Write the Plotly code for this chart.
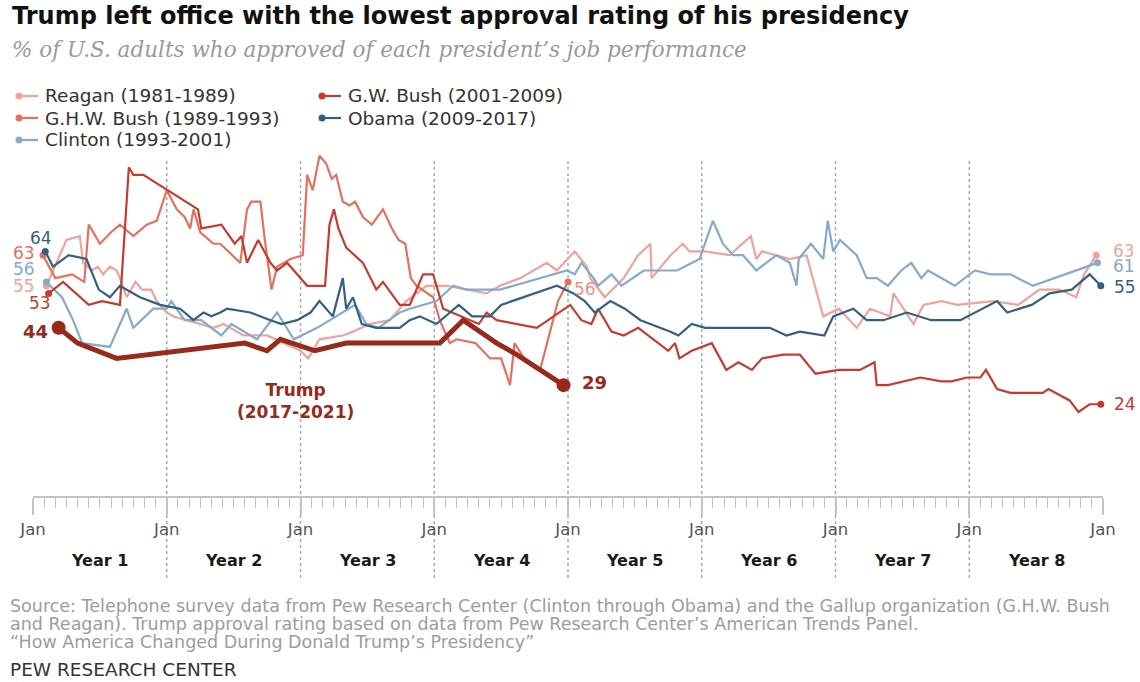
import plotly.graph_objects as go

# ---- Data: months since inauguration and % approving -------------------
reagan_m = [1.2, 3.0, 4.2, 4.5, 5.3, 5.8, 6.3, 6.9, 7.5, 7.8, 8.4, 9.2, 9.8, 10.6, 11.1,
            12.0, 12.6, 13.8, 15.0, 16.2, 17.1, 18.9, 21.0, 24.0, 24.7, 25.7, 27.8, 28.7,
            30.2, 32.0, 33.5, 35.3, 37.1, 40.7, 41.9, 43.7, 46.1, 47.0, 48.6, 49.7, 50.0,
            51.3, 53.0, 54.3, 55.4, 55.5, 57.2, 58.3, 58.9, 60.3, 62.5, 64.4, 64.9, 65.4,
            67.9, 69.4, 70.9, 72.3, 73.9, 75.1, 76.9, 77.2, 79.0, 79.9, 81.5, 82.9, 86.2,
            88.4, 90.3, 92.1, 93.6, 94.3, 95.4]
reagan_v = [55, 67, 68, 61, 59, 60, 58, 60, 59, 57, 52, 56, 54, 54, 51,
            48, 47, 46, 45, 44, 45, 42, 42, 38, 36, 41, 42, 43,
            45, 46, 51, 55, 55, 53, 55, 57, 61, 59, 64, 60, 57,
            52, 57, 63, 66, 57, 63, 66, 64, 64, 63, 68, 62, 64,
            62, 63, 47, 49, 44, 49, 47, 53, 45, 50, 51, 50, 51,
            50, 54, 54, 52, 58, 63]

ghw_bush_m = [0.9, 2.0, 3.5, 4.6, 5.0, 6.0, 7.0, 7.8, 9.0, 10.2, 11.1, 12.0, 12.9, 13.6,
              14.1, 14.4, 15.0, 16.2, 16.8, 18.6, 19.2, 19.6, 20.4, 20.8, 21.4, 21.9,
              23.1, 24.2, 24.6, 25.1, 25.7, 26.3, 26.8, 27.2, 27.8, 28.4, 28.9, 29.6,
              30.4, 31.4, 32.2, 32.8, 33.4, 33.9, 34.4, 35.9, 36.5, 37.4, 38.0, 39.7,
              41.0, 42.0, 42.8, 43.2, 44.3, 45.5, 47.1, 48.0]
ghw_bush_v = [63, 57, 58, 56, 71, 66, 69, 71, 68, 71, 72, 80, 75, 73,
              70, 75, 69, 66, 66, 61, 75, 77, 77, 67, 54, 60,
              62, 63, 84, 80, 89, 87, 83, 84, 77, 76, 77, 73,
              71, 75, 70, 67, 66, 57, 55, 52, 46, 40, 41, 40,
              36, 36, 29, 40, 35, 33, 51, 56]

clinton_m = [1.2, 2.6, 3.6, 4.4, 6.9, 8.4, 9.0, 10.8, 12.0, 12.4, 13.6, 15.1, 16.9, 17.8,
             20.1, 21.9, 23.4, 25.5, 28.9, 29.9, 31.0, 32.9, 33.8, 36.2, 37.7, 38.9,
             41.9, 47.9, 48.6, 49.2, 50.3, 50.7, 51.9, 52.8, 54.8, 55.6, 57.8, 59.8,
             61.0, 61.9, 62.8, 63.7, 64.9, 66.7, 67.9, 68.5, 68.7, 69.8, 70.9, 71.3,
             71.8, 72.4, 73.9, 74.8, 75.7, 76.7, 77.9, 78.8, 79.7, 80.3, 82.7, 84.5,
             85.9, 87.7, 89.7, 95.5]
clinton_v = [56, 52, 46, 40, 39, 49, 44, 49, 49, 51, 46, 46, 42, 45,
             41, 48, 41, 44, 50, 45, 44, 48, 49, 51, 55, 54,
             54, 59, 58, 61, 57, 55, 58, 55, 59, 59, 59, 62,
             72, 66, 63, 63, 59, 63, 61, 55, 62, 66, 62, 72,
             64, 67, 63, 57, 57, 55, 59, 61, 57, 59, 55, 59,
             58, 58, 55, 61]

gw_bush_m = [1.4, 2.7, 5.0, 6.2, 7.8, 8.6, 9.0, 9.9, 14.8, 15.1, 16.9, 18.1, 18.7, 19.2,
             20.2, 21.3, 21.9, 22.8, 24.6, 26.2, 26.6, 27.0, 27.4, 28.1, 29.6, 30.8,
             31.4, 32.9, 33.8, 35.0, 35.9, 36.8, 40.0, 40.7, 41.6, 45.2, 48.2, 49.2,
             50.1, 50.7, 51.9, 53.0, 54.3, 57.0, 57.6, 58.0, 59.1, 60.9, 62.2, 63.3,
             64.5, 65.4, 67.3, 68.8, 70.2, 72.3, 74.2, 75.5, 75.7, 76.7, 79.6, 81.5,
             82.4, 83.8, 85.0, 85.5, 86.5, 87.7, 90.6, 91.1, 93.0, 93.8, 94.8, 95.8]
gw_bush_v = [53, 56, 50, 51, 50, 86, 84, 84, 75, 70, 71, 66, 68, 61,
             67, 61, 59, 61, 55, 55, 71, 75, 70, 65, 61, 54,
             56, 50, 50, 58, 58, 49, 45, 48, 46, 44, 50, 46,
             45, 49, 43, 42, 44, 38, 40, 36, 38, 40, 33, 35,
             33, 36, 37, 37, 32, 33, 33, 35, 29, 29, 31, 30,
             30, 31, 31, 33, 28, 27, 27, 28, 25, 22, 24, 24]

obama_m = [1.1, 1.8, 3.2, 4.8, 5.9, 6.9, 7.8, 9.6, 11.4, 13.2, 14.4, 15.3, 16.0, 16.8,
           17.4, 19.5, 21.3, 22.3, 23.7, 24.9, 25.7, 26.9, 27.8, 28.1, 28.7, 29.5,
           30.8, 32.9, 33.8, 34.7, 36.2, 38.2, 39.4, 41.0, 42.0, 47.0, 48.5, 49.5,
           50.4, 51.8, 53.1, 54.5, 57.2, 57.9, 59.1, 60.3, 61.3, 66.1, 67.6, 68.8,
           71.0, 71.8, 73.6, 74.8, 76.3, 78.4, 80.6, 83.2, 86.5, 87.4, 89.6, 91.2,
           93.2, 94.8, 95.8]
obama_v = [64, 60, 63, 62, 54, 52, 55, 52, 50, 49, 46, 48, 47, 48,
           49, 48, 46, 45, 46, 48, 51, 47, 57, 49, 52, 45,
           44, 44, 46, 47, 45, 50, 47, 47, 50, 55, 53, 51,
           48, 51, 49, 46, 43, 42, 45, 44, 44, 44, 42, 43,
           42, 47, 49, 46, 46, 48, 46, 46, 51, 48, 50, 53,
           54, 58, 55]

trump_m = [2.3, 4.0, 7.5, 19.0, 21.0, 22.2, 25.3, 28.1, 36.5, 38.6, 41.6, 43.4, 47.6]
trump_v = [44, 40, 36, 40, 38, 41, 38, 40, 40, 46, 40, 37, 29]

presidents = ["Reagan (1981-1989)", "G.H.W. Bush (1989-1993)", "Clinton (1993-2001)",
              "G.W. Bush (2001-2009)", "Obama (2009-2017)"]
year_labels = ["Year 1", "Year 2", "Year 3", "Year 4", "Year 5", "Year 6", "Year 7", "Year 8"]
tick_months = [0, 12, 24, 36, 48, 60, 72, 84, 96]
tick_text = ["Jan"] * 9

COLORS = {
    "Reagan (1981-1989)": "#f1a39a",
    "G.H.W. Bush (1989-1993)": "#e4715f",
    "Clinton (1993-2001)": "#84abcb",
    "G.W. Bush (2001-2009)": "#c73b2d",
    "Obama (2009-2017)": "#33607f",
}
TRUMP = "#962b1c"

series = [
    ("Reagan (1981-1989)", reagan_m, reagan_v),
    ("G.H.W. Bush (1989-1993)", ghw_bush_m, ghw_bush_v),
    ("Clinton (1993-2001)", clinton_m, clinton_v),
    ("G.W. Bush (2001-2009)", gw_bush_m, gw_bush_v),
    ("Obama (2009-2017)", obama_m, obama_v),
]

# ---- Page geometry ----------------------------------------------------
W, H = 1140, 682
L, R, T, B = 33, 37, 152, 186
PW, PH = W - L - R, H - T - B


def px(x):
    return (x - L) / PW


def py(y):
    return (H - B - y) / PH


FONT = "DejaVu Sans"
fig = go.Figure()

for name, m, v in series:
    c = COLORS[name]
    fig.add_trace(go.Scatter(x=m, y=v, mode="lines", name=name,
                             line=dict(color=c, width=2.2), showlegend=False,
                             hoverinfo="skip"))
    fig.add_trace(go.Scatter(x=[m[0], m[-1]], y=[v[0], v[-1]], mode="markers",
                             marker=dict(color=c, size=7), showlegend=False,
                             hoverinfo="skip", cliponaxis=False))

fig.add_trace(go.Scatter(x=trump_m, y=trump_v, mode="lines", name="Trump",
                         line=dict(color=TRUMP, width=5), showlegend=False,
                         hoverinfo="skip"))
fig.add_trace(go.Scatter(x=[trump_m[0], trump_m[-1]], y=[trump_v[0], trump_v[-1]],
                         mode="markers", marker=dict(color=TRUMP, size=14),
                         showlegend=False, hoverinfo="skip", cliponaxis=False))

ann = []
shapes = []


# value labels at the first / last point of a line
def value_label(x, y, color, xanchor, xs, ys, bold=False, size=17):
    txt = f"<b>{y}</b>" if bold else str(y)
    ann.append(dict(x=x, y=y, xref="x", yref="y", text=txt, showarrow=False,
                    xanchor=xanchor, yanchor="middle", xshift=xs, yshift=ys,
                    font=dict(family=FONT, size=size, color=color)))


value_label(obama_m[0], obama_v[0], COLORS["Obama (2009-2017)"], "center", -4, 13)
value_label(ghw_bush_m[0], ghw_bush_v[0], COLORS["G.H.W. Bush (1989-1993)"], "center", -19, 2)
value_label(clinton_m[0], clinton_v[0], COLORS["Clinton (1993-2001)"], "center", -22, 13)
value_label(reagan_m[0], reagan_v[0], COLORS["Reagan (1981-1989)"], "center", -22, 0)
value_label(gw_bush_m[0], gw_bush_v[0], COLORS["G.W. Bush (2001-2009)"], "center", -9, -10)
value_label(trump_m[0], trump_v[0], TRUMP, "center", -23, -4, bold=True, size=18)

value_label(reagan_m[-1], reagan_v[-1], COLORS["Reagan (1981-1989)"], "left", 15, 4)
value_label(clinton_m[-1], clinton_v[-1], COLORS["Clinton (1993-2001)"], "left", 14, -3)
value_label(obama_m[-1], obama_v[-1], COLORS["Obama (2009-2017)"], "left", 11, -1)
value_label(gw_bush_m[-1], gw_bush_v[-1], COLORS["G.W. Bush (2001-2009)"], "left", 11, 0)
value_label(ghw_bush_m[-1], ghw_bush_v[-1], "#eb8f80", "left", 4, -7)
value_label(trump_m[-1], trump_v[-1], TRUMP, "left", 16, 3, bold=True, size=18)

ann.append(dict(x=px(295), y=py(401), xref="paper", yref="paper",
                text="<b>Trump<br>(2017-2021)</b>", showarrow=False,
                xanchor="center", yanchor="middle",
                font=dict(family=FONT, size=17, color=TRUMP)))

# title block
ann.append(dict(x=px(10), y=py(16), xref="paper", yref="paper", showarrow=False,
                xanchor="left", yanchor="middle",
                text="<b>Trump left office with the lowest approval rating of his presidency</b>",
                font=dict(family=FONT, size=24, color="#111111")))
ann.append(dict(x=px(10), y=py(50), xref="paper", yref="paper", showarrow=False,
                xanchor="left", yanchor="middle",
                text="<i>% of U.S. adults who approved of each president\u2019s job performance</i>",
                font=dict(family="DejaVu Serif", size=21.5, color="#9a9a9a")))

# legend
legend_pos = [(19, 96), (19, 118), (19, 140), (322, 96), (322, 118)]
for name, (lx, ly) in zip(presidents, legend_pos):
    c = COLORS[name]
    shapes.append(dict(type="line", xref="paper", yref="paper",
                       x0=px(lx), x1=px(lx + 19), y0=py(ly), y1=py(ly),
                       line=dict(color=c, width=2.2)))
    shapes.append(dict(type="circle", xref="paper", yref="paper",
                       x0=px(lx - 3.5), x1=px(lx + 3.5), y0=py(ly + 3.5), y1=py(ly - 3.5),
                       fillcolor=c, line=dict(width=0)))
    ann.append(dict(x=px(lx + 24), y=py(ly), xref="paper", yref="paper", text=name,
                    showarrow=False, xanchor="left", yanchor="middle",
                    font=dict(family=FONT, size=18.5, color="#333333")))

# year dividers and labels
for k in range(1, 8):
    shapes.append(dict(type="line", xref="x", yref="paper", x0=12 * k, x1=12 * k,
                       y0=py(578), y1=py(160), layer="below",
                       line=dict(color="#aaaaaa", width=1.5, dash="dot")))
for k, lab in enumerate(year_labels):
    ann.append(dict(x=12 * k + 6, y=py(560), xref="x", yref="paper", text=f"<b>{lab}</b>",
                    showarrow=False, xanchor="center", yanchor="middle",
                    font=dict(family=FONT, size=16, color="#1a1a1a")))

# footer
notes = [
    "Source: Telephone survey data from Pew Research Center (Clinton through Obama) and the Gallup organization (G.H.W. Bush",
    "and Reagan). Trump approval rating based on data from Pew Research Center\u2019s American Trends Panel.",
    "\u201cHow America Changed During Donald Trump\u2019s Presidency\u201d",
]
for i, line in enumerate(notes):
    ann.append(dict(x=px(8), y=py(606 + 18 * i), xref="paper", yref="paper", text=line,
                    showarrow=False, xanchor="left", yanchor="middle",
                    font=dict(family=FONT, size=17.5, color="#9d9d9d")))
ann.append(dict(x=px(8), y=py(669), xref="paper", yref="paper", text="PEW RESEARCH CENTER",
                showarrow=False, xanchor="left", yanchor="middle",
                font=dict(family=FONT, size=18.5, color="#333333")))

fig.update_layout(
    width=W, height=H, autosize=False,
    margin=dict(l=L, r=R, t=T, b=B),
    paper_bgcolor="white", plot_bgcolor="white",
    font=dict(family=FONT),
    showlegend=False,
    annotations=ann, shapes=shapes,
    xaxis=dict(range=[0, 96], showgrid=False, zeroline=False, showline=True,
               linecolor="#c4c4c4", linewidth=1.5, ticks="outside", ticklen=17,
               tickwidth=1.5, tickcolor="#c4c4c4", tickmode="array",
               tickvals=tick_months, ticktext=tick_text,
               tickfont=dict(family=FONT, size=16.5, color="#555555"),
               minor=dict(ticks="outside", ticklen=10, tickwidth=1, tickcolor="#c4c4c4",
                          tick0=0, dtick=1, showgrid=False),
               fixedrange=True),
    yaxis=dict(range=[0, 90], visible=False, fixedrange=True),
)

fig.write_html("out.html")
